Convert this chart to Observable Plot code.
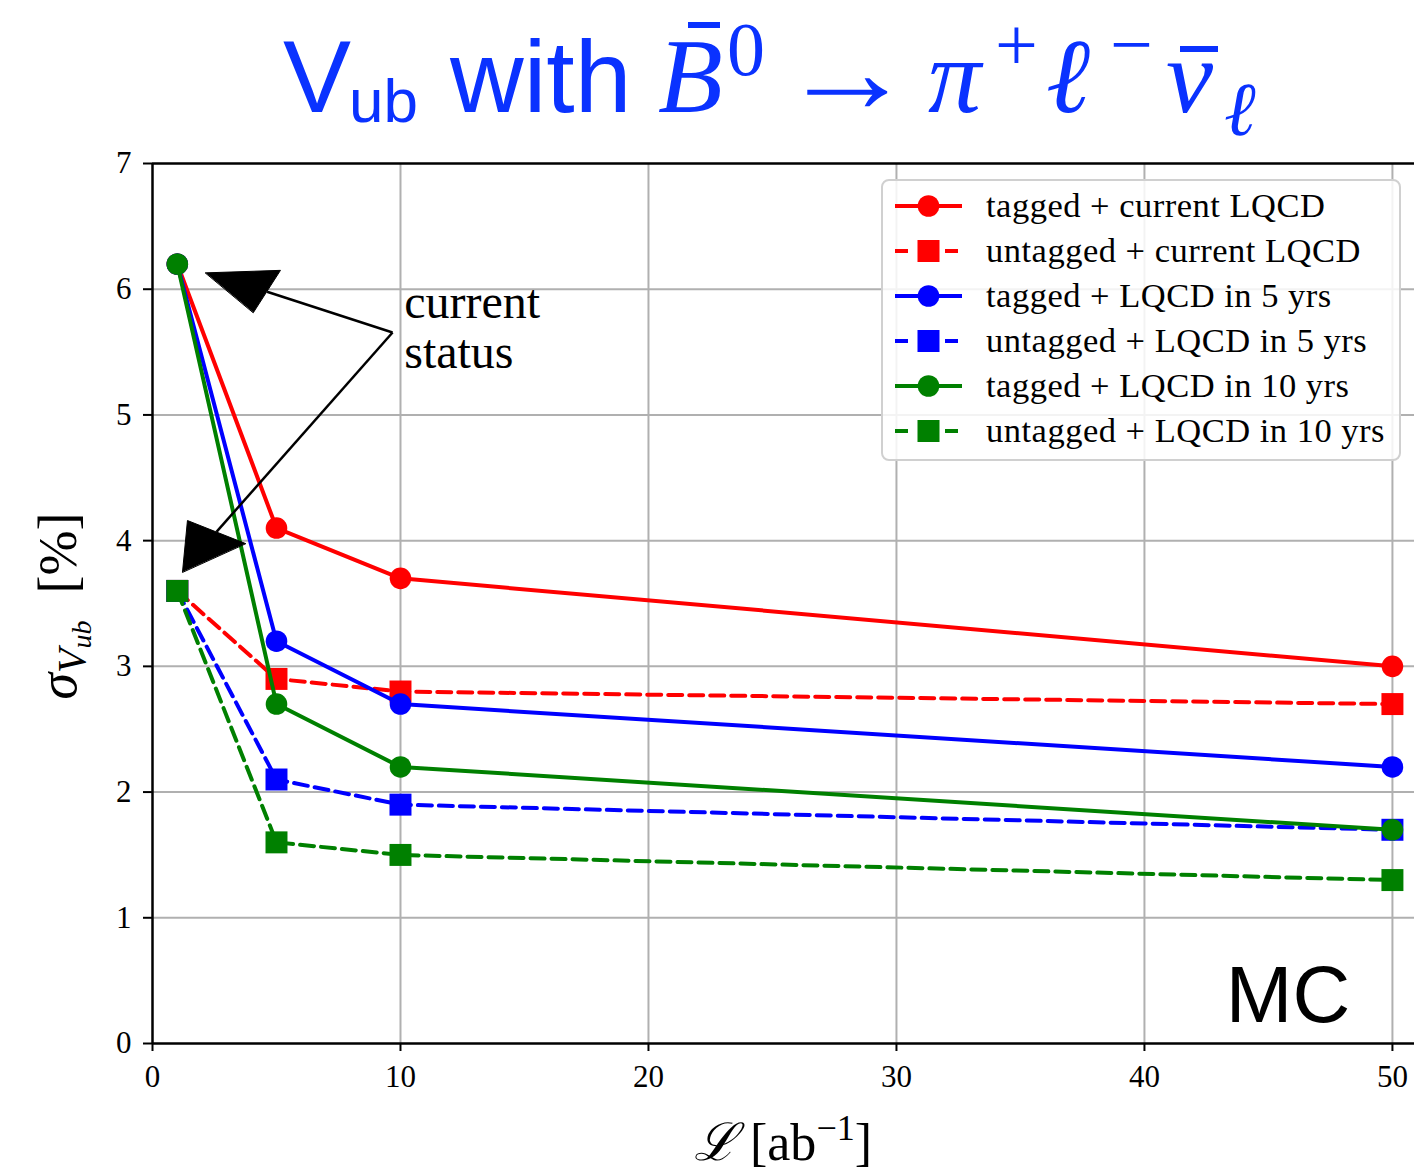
<!DOCTYPE html>
<html>
<head>
<meta charset="utf-8">
<script src="https://cdn.jsdelivr.net/npm/d3@7"></script>
<script src="https://cdn.jsdelivr.net/npm/@observablehq/plot@0.6"></script>
<style>
  html, body { margin: 0; padding: 0; background: white; }
  #wrap { width: 1414px; height: 1170px; position: relative; overflow: hidden; }
  #title { position: absolute; left: 0; top: 0; }
  #chart { position: absolute; left: 0; top: 150px; }
</style>
</head>
<body>
<div id="wrap">
  <div id="title"></div>
  <div id="chart"></div>
</div>
<script>
// ---- data ----
const lumi = [1, 5, 10, 50];
const taggedCurrent   = [6.2, 4.1, 3.7, 3.0];
const untaggedCurrent = [3.6, 2.9, 2.8, 2.7];
const tagged5yrs      = [6.2, 3.2, 2.7, 2.2];
const untagged5yrs    = [3.6, 2.1, 1.9, 1.7];
const tagged10yrs     = [6.2, 2.7, 2.2, 1.7];
const untagged10yrs   = [3.6, 1.6, 1.5, 1.3];

const seriesNames = [
  "tagged + current LQCD",
  "untagged + current LQCD",
  "tagged + LQCD in 5 yrs",
  "untagged + LQCD in 5 yrs",
  "tagged + LQCD in 10 yrs",
  "untagged + LQCD in 10 yrs"
];
const seriesValues = [taggedCurrent, untaggedCurrent, tagged5yrs, untagged5yrs, tagged10yrs, untagged10yrs];
const seriesColors = ["#ff0000", "#ff0000", "#0000ff", "#0000ff", "#008000", "#008000"];
const seriesDashed = [false, true, false, true, false, true];

const xTicks = [0, 10, 20, 30, 40, 50];
const yTicks = [0, 1, 2, 3, 4, 5, 6, 7];

// annotation (data coordinates)
const annotLines = ["current", "status"];
const annotX = 10.15;
const annotY = [5.895, 5.495];
const arrowFrom = {x: 9.68, y: 5.656};
const arrowBases = [{x: 4.62, y: 5.98}, {x: 2.58, y: 4.07}];
const arrowHead1 = [{x: 2.14, y: 6.13}, {x: 5.16, y: 6.15}, {x: 4.07, y: 5.815}];
const arrowHead2 = [{x: 1.21, y: 3.75}, {x: 1.41, y: 4.16}, {x: 3.75, y: 3.977}];

// ---- title (separate svg above the chart) ----
const TITLE_BLUE = "#0a32ff";
const tsvg = d3.select("#title").append("svg").attr("width", 1414).attr("height", 150)
  .attr("font-family", "Liberation Serif, serif").attr("fill", TITLE_BLUE);
function tt(str, x, y, size, opts = {}) {
  const t = tsvg.append("text").attr("x", x).attr("y", y).attr("font-size", size).text(str);
  if (opts.sans) t.attr("font-family", "Liberation Sans, sans-serif");
  if (opts.italic) t.attr("font-style", "italic");
  return t;
}
tt("V", 283, 112, 102, {sans: true});
tt("ub", 349, 122, 62, {sans: true});
tt("with", 450, 112, 102, {sans: true});
tt("B", 658, 112, 106, {italic: true});
tsvg.append("rect").attr("x", 688).attr("y", 22).attr("width", 32).attr("height", 6);
tt("0", 727, 75, 76);
tsvg.append("text").attr("transform", "translate(780,112) scale(1.35,1.2)")
  .attr("font-size", 100).text("→");
tt("π", 928, 112, 106, {italic: true});
tt("+", 995, 70, 76);
tt("ℓ", 1046, 112, 106, {italic: true});
tt("−", 1110, 70, 76);
tt("ν", 1166, 112, 106, {italic: true});
tsvg.append("rect").attr("x", 1180).attr("y", 46).attr("width", 38).attr("height", 6);
tt("ℓ", 1224, 135, 76, {italic: true});

// ---- chart ----
const DASH = "14,7";
const seriesMarks = [];
seriesNames.forEach((name, i) => {
  const rows = lumi.map((x, j) => ({x, y: seriesValues[i][j]}));
  seriesMarks.push(Plot.line(rows, {
    x: "x", y: "y", stroke: seriesColors[i], strokeWidth: 4,
    strokeDasharray: seriesDashed[i] ? DASH : undefined
  }));
  seriesMarks.push(Plot.dot(rows, {
    x: "x", y: "y", fill: seriesColors[i], stroke: "none",
    symbol: seriesDashed[i] ? "square" : "circle",
    r: seriesDashed[i] ? 12.4 : 10.8
  }));
});

const chart = Plot.plot({
  width: 1414,
  height: 1020,
  marginTop: 13,
  marginLeft: 152,
  marginRight: 0,
  marginBottom: 127,
  x: {domain: [0, 50.89]},
  y: {domain: [0, 7]},
  style: {fontFamily: "Liberation Serif, serif", fontSize: "31px", color: "black", background: "white", overflow: "visible"},
  marks: [
    Plot.gridX(xTicks.slice(1), {stroke: "#b0b0b0", strokeOpacity: 1, strokeWidth: 2}),
    Plot.gridY(yTicks.slice(1, -1), {stroke: "#b0b0b0", strokeOpacity: 1, strokeWidth: 2}),
    Plot.axisX(xTicks, {tickSize: 8, tickPadding: 13, label: null, strokeWidth: 2, fill: "black", tickFormat: d => String(d)}),
    Plot.axisY(yTicks, {tickSize: 9, tickPadding: 12, label: null, strokeWidth: 2, fill: "black", tickFormat: d => String(d)}),
    Plot.ruleX([0], {stroke: "black", strokeWidth: 2.5}),
    Plot.ruleY([0, 7], {stroke: "black", strokeWidth: 2.5}),
    ...seriesMarks,
    Plot.link(arrowBases, {x1: () => arrowFrom.x, y1: () => arrowFrom.y, x2: "x", y2: "y", stroke: "black", strokeWidth: 2.5}),
    Plot.line(arrowHead1, {x: "x", y: "y", curve: "linear-closed", fill: "black", stroke: "black", strokeWidth: 1}),
    Plot.line(arrowHead2, {x: "x", y: "y", curve: "linear-closed", fill: "black", stroke: "black", strokeWidth: 1}),
    Plot.text(annotLines, {x: () => annotX, y: (d, i) => annotY[i], text: d => d, textAnchor: "start", lineAnchor: "middle", fontSize: 48, fill: "black"}),
    Plot.text(["MC"], {x: () => 48.3, y: () => 0.17, text: d => d, textAnchor: "end", lineAnchor: "bottom", fontSize: 80, fontFamily: "Liberation Sans, sans-serif", fill: "black"})
  ]
});

document.getElementById("chart").appendChild(chart);

// ---- legend and axis labels (added to the SVG) ----
const svg = d3.select(chart);
const lg = svg.append("g").attr("class", "legend").attr("text-anchor", "start");
lg.append("rect").attr("x", 882).attr("y", 30).attr("width", 518).attr("height", 280)
  .attr("rx", 7).attr("fill", "white").attr("fill-opacity", 0.85)
  .attr("stroke", "#d0d0d0").attr("stroke-width", 2);
seriesNames.forEach((name, i) => {
  const cy = 56 + 45 * i;
  if (seriesDashed[i]) {
    lg.append("line").attr("x1", 895).attr("x2", 908).attr("y1", cy).attr("y2", cy)
      .attr("stroke", seriesColors[i]).attr("stroke-width", 4);
    lg.append("line").attr("x1", 945).attr("x2", 958).attr("y1", cy).attr("y2", cy)
      .attr("stroke", seriesColors[i]).attr("stroke-width", 4);
    lg.append("rect").attr("x", 917.5).attr("y", cy - 11).attr("width", 22).attr("height", 22).attr("fill", seriesColors[i]);
  } else {
    lg.append("line").attr("x1", 895).attr("x2", 962).attr("y1", cy).attr("y2", cy)
      .attr("stroke", seriesColors[i]).attr("stroke-width", 4);
    lg.append("circle").attr("cx", 928.5).attr("cy", cy).attr("r", 10.8).attr("fill", seriesColors[i]);
  }
  lg.append("text").attr("x", 986).attr("y", cy + 11)
    .attr("font-family", "Liberation Serif, serif").attr("font-size", 34.5)
    .attr("letter-spacing", 0.5).attr("fill", "black")
    .text(name);
});

// x label
const xl = svg.append("text").attr("x", 783).attr("y", 1010).attr("text-anchor", "middle")
  .attr("font-family", "Liberation Serif, serif").attr("font-size", 52).attr("fill", "black");
xl.append("tspan").attr("font-style", "italic").text("ℒ");
xl.append("tspan").text(" [ab");
xl.append("tspan").attr("font-size", 36).attr("dy", -20).text("−1");
xl.append("tspan").attr("dy", 20).text("]");

// y label
const yl = svg.append("text").attr("transform", "translate(76,456) rotate(-90)").attr("text-anchor", "middle")
  .attr("font-family", "Liberation Serif, serif").attr("font-size", 54).attr("fill", "black");
yl.append("tspan").attr("font-style", "italic").text("σ");
yl.append("tspan").attr("font-size", 40).attr("dy", 9).attr("font-style", "italic").text("V");
yl.append("tspan").attr("font-size", 28).attr("dy", 6).attr("font-style", "italic").text("ub");
yl.append("tspan").attr("dy", -15).text("  [%]");
</script>
</body>
</html>
